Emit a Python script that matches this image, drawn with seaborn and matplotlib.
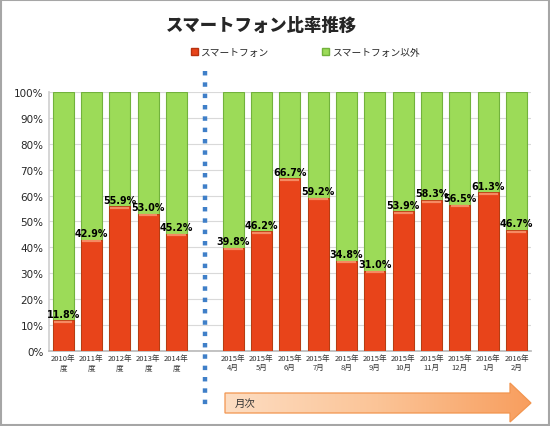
import numpy as np
import pandas as pd
import matplotlib

matplotlib.use("Agg")

import matplotlib.pyplot as plt
import seaborn as sns
from matplotlib.patches import Patch, Polygon
from matplotlib.lines import Line2D
from matplotlib.colors import LinearSegmentedColormap

# data
yearly_labels = ["2010年\n度", "2011年\n度", "2012年\n度", "2013年\n度", "2014年\n度"]
monthly_labels = ["2015年\n4月", "2015年\n5月", "2015年\n6月", "2015年\n7月", "2015年\n8月",
                  "2015年\n9月", "2015年\n10月", "2015年\n11月", "2015年\n12月",
                  "2016年\n1月", "2016年\n2月"]
yearly_share = [11.8, 42.9, 55.9, 53.0, 45.2]
monthly_share = [39.8, 46.2, 66.7, 59.2, 34.8, 31.0, 53.9, 58.3, 56.5, 61.3, 46.7]

title = "スマートフォン比率推移"
series_names = ["スマートフォン", "スマートフォン以外"]
arrow_text = "月次"

RED = "#E8441A"
RED_EDGE = "#B8320F"
RED_TOP = "#F58A62"
GREEN = "#9CDB58"
GREEN_EDGE = "#72B23C"

sns.set_theme(style="white")
plt.rcParams["font.family"] = ["Noto Sans CJK JP", "DejaVu Sans"]

labels = yearly_labels + monthly_labels
share = yearly_share + monthly_share
df = pd.DataFrame({"period": labels, "smartphone": share})
df["total"] = 100.0
order = yearly_labels + [" "] + monthly_labels

fig = plt.figure(figsize=(5.5, 4.27), dpi=100)
ax = fig.add_axes([0.089, 0.176, 0.876, 0.606])

sns.barplot(data=df, x="period", y="total", order=order, color=GREEN,
            saturation=1, width=0.74, edgecolor=GREEN_EDGE, linewidth=0.8,
            errorbar=None, ax=ax, zorder=2)
sns.barplot(data=df, x="period", y="smartphone", order=order, color=RED,
            saturation=1, width=0.74, edgecolor=RED_EDGE, linewidth=0.6,
            errorbar=None, ax=ax, zorder=3)

pos = {lab: i for i, lab in enumerate(order)}
for lab, v in zip(labels, share):
    x = pos[lab]
    ax.plot([x - 0.33, x + 0.33], [v - 0.6, v - 0.6], color=RED_TOP, lw=1.6,
            zorder=4, solid_capstyle="butt")
    ax.text(x, v + 0.6, f"{v:.1f}%", ha="center", va="bottom", fontsize=6.9,
            fontweight="bold", color="black", family="DejaVu Sans", zorder=5)

ax.set_ylim(0, 100)
ax.set_xlim(-0.5, len(order) - 0.5)
ax.set_yticks(np.arange(0, 101, 10))
ax.set_yticklabels([f"{t}%" for t in range(0, 101, 10)], fontsize=7.5,
                   family="DejaVu Sans")
ax.tick_params(axis="x", labelsize=5.5, colors="#333333", pad=2, length=0)
ax.tick_params(axis="y", pad=4, length=0)
ax.set_xlabel("")
ax.set_ylabel("")
ax.yaxis.grid(True, color="#D9D9D9", lw=0.8, zorder=0)
ax.set_axisbelow(True)
for side in ["top", "right"]:
    ax.spines[side].set_visible(False)
ax.spines["left"].set_color("#D0D0D0")
ax.spines["bottom"].set_color("#BBBBBB")

# title and legend
fig.text(0.475, 0.94, title, ha="center", va="center", fontsize=12.5,
         fontweight="heavy")
handles = [Patch(facecolor=RED, edgecolor=RED_EDGE),
           Patch(facecolor=GREEN, edgecolor=GREEN_EDGE)]
fig.legend(handles, series_names, loc="center", bbox_to_anchor=(0.555, 0.876),
           ncol=2, frameon=False, fontsize=7, handlelength=0.7,
           handleheight=0.7, handletextpad=0.3, columnspacing=5.5)

# dotted separator between yearly and monthly
gap_x = fig.transFigure.inverted().transform(ax.transData.transform((pos[" "], 0)))[0]
fig.add_artist(Line2D([gap_x, gap_x], [1 - 72 / 427, 1 - 408 / 427],
                      transform=fig.transFigure, color="#3F7FC8", lw=3.2,
                      linestyle=(0, (1, 1.55)), dash_capstyle="butt"))

# gradient arrow "月次"
W, H = 550, 427
pts = [(225, 394), (510, 394), (510, 384), (531, 404), (510, 423),
       (510, 414), (225, 414)]
poly_pts = [(x / W, 1 - y / H) for x, y in pts]
arrow = Polygon(poly_pts, closed=True, transform=fig.transFigure,
                facecolor="none", edgecolor="#F2954F", lw=0.9, zorder=3)
grad_ax = fig.add_axes([0, 0, 1, 1], zorder=-1)
grad_ax.set_axis_off()
grad_ax.set_xlim(0, 1)
grad_ax.set_ylim(0, 1)
cmap = LinearSegmentedColormap.from_list("peach", ["#FDDDC2", "#FBC497", "#F89E5E"])
grad = np.linspace(0, 1, 256).reshape(1, -1)
im = grad_ax.imshow(grad, cmap=cmap, aspect="auto",
                    extent=[225 / W, 531 / W, 1 - 423 / H, 1 - 384 / H])
clip = Polygon(poly_pts, closed=True, transform=grad_ax.transAxes,
               facecolor="none", edgecolor="none")
grad_ax.add_patch(clip)
im.set_clip_path(clip)
fig.add_artist(arrow)
fig.text(235 / W, 1 - 404 / H, arrow_text, ha="left", va="center", fontsize=7.5,
         color="#333333")

# outer frame
fig.add_artist(plt.Rectangle((0.002, 0.003), 0.996, 0.994,
                             transform=fig.transFigure, fill=False,
                             edgecolor="#A6A6A6", lw=1.5))

fig.savefig("out.png", dpi=100)
